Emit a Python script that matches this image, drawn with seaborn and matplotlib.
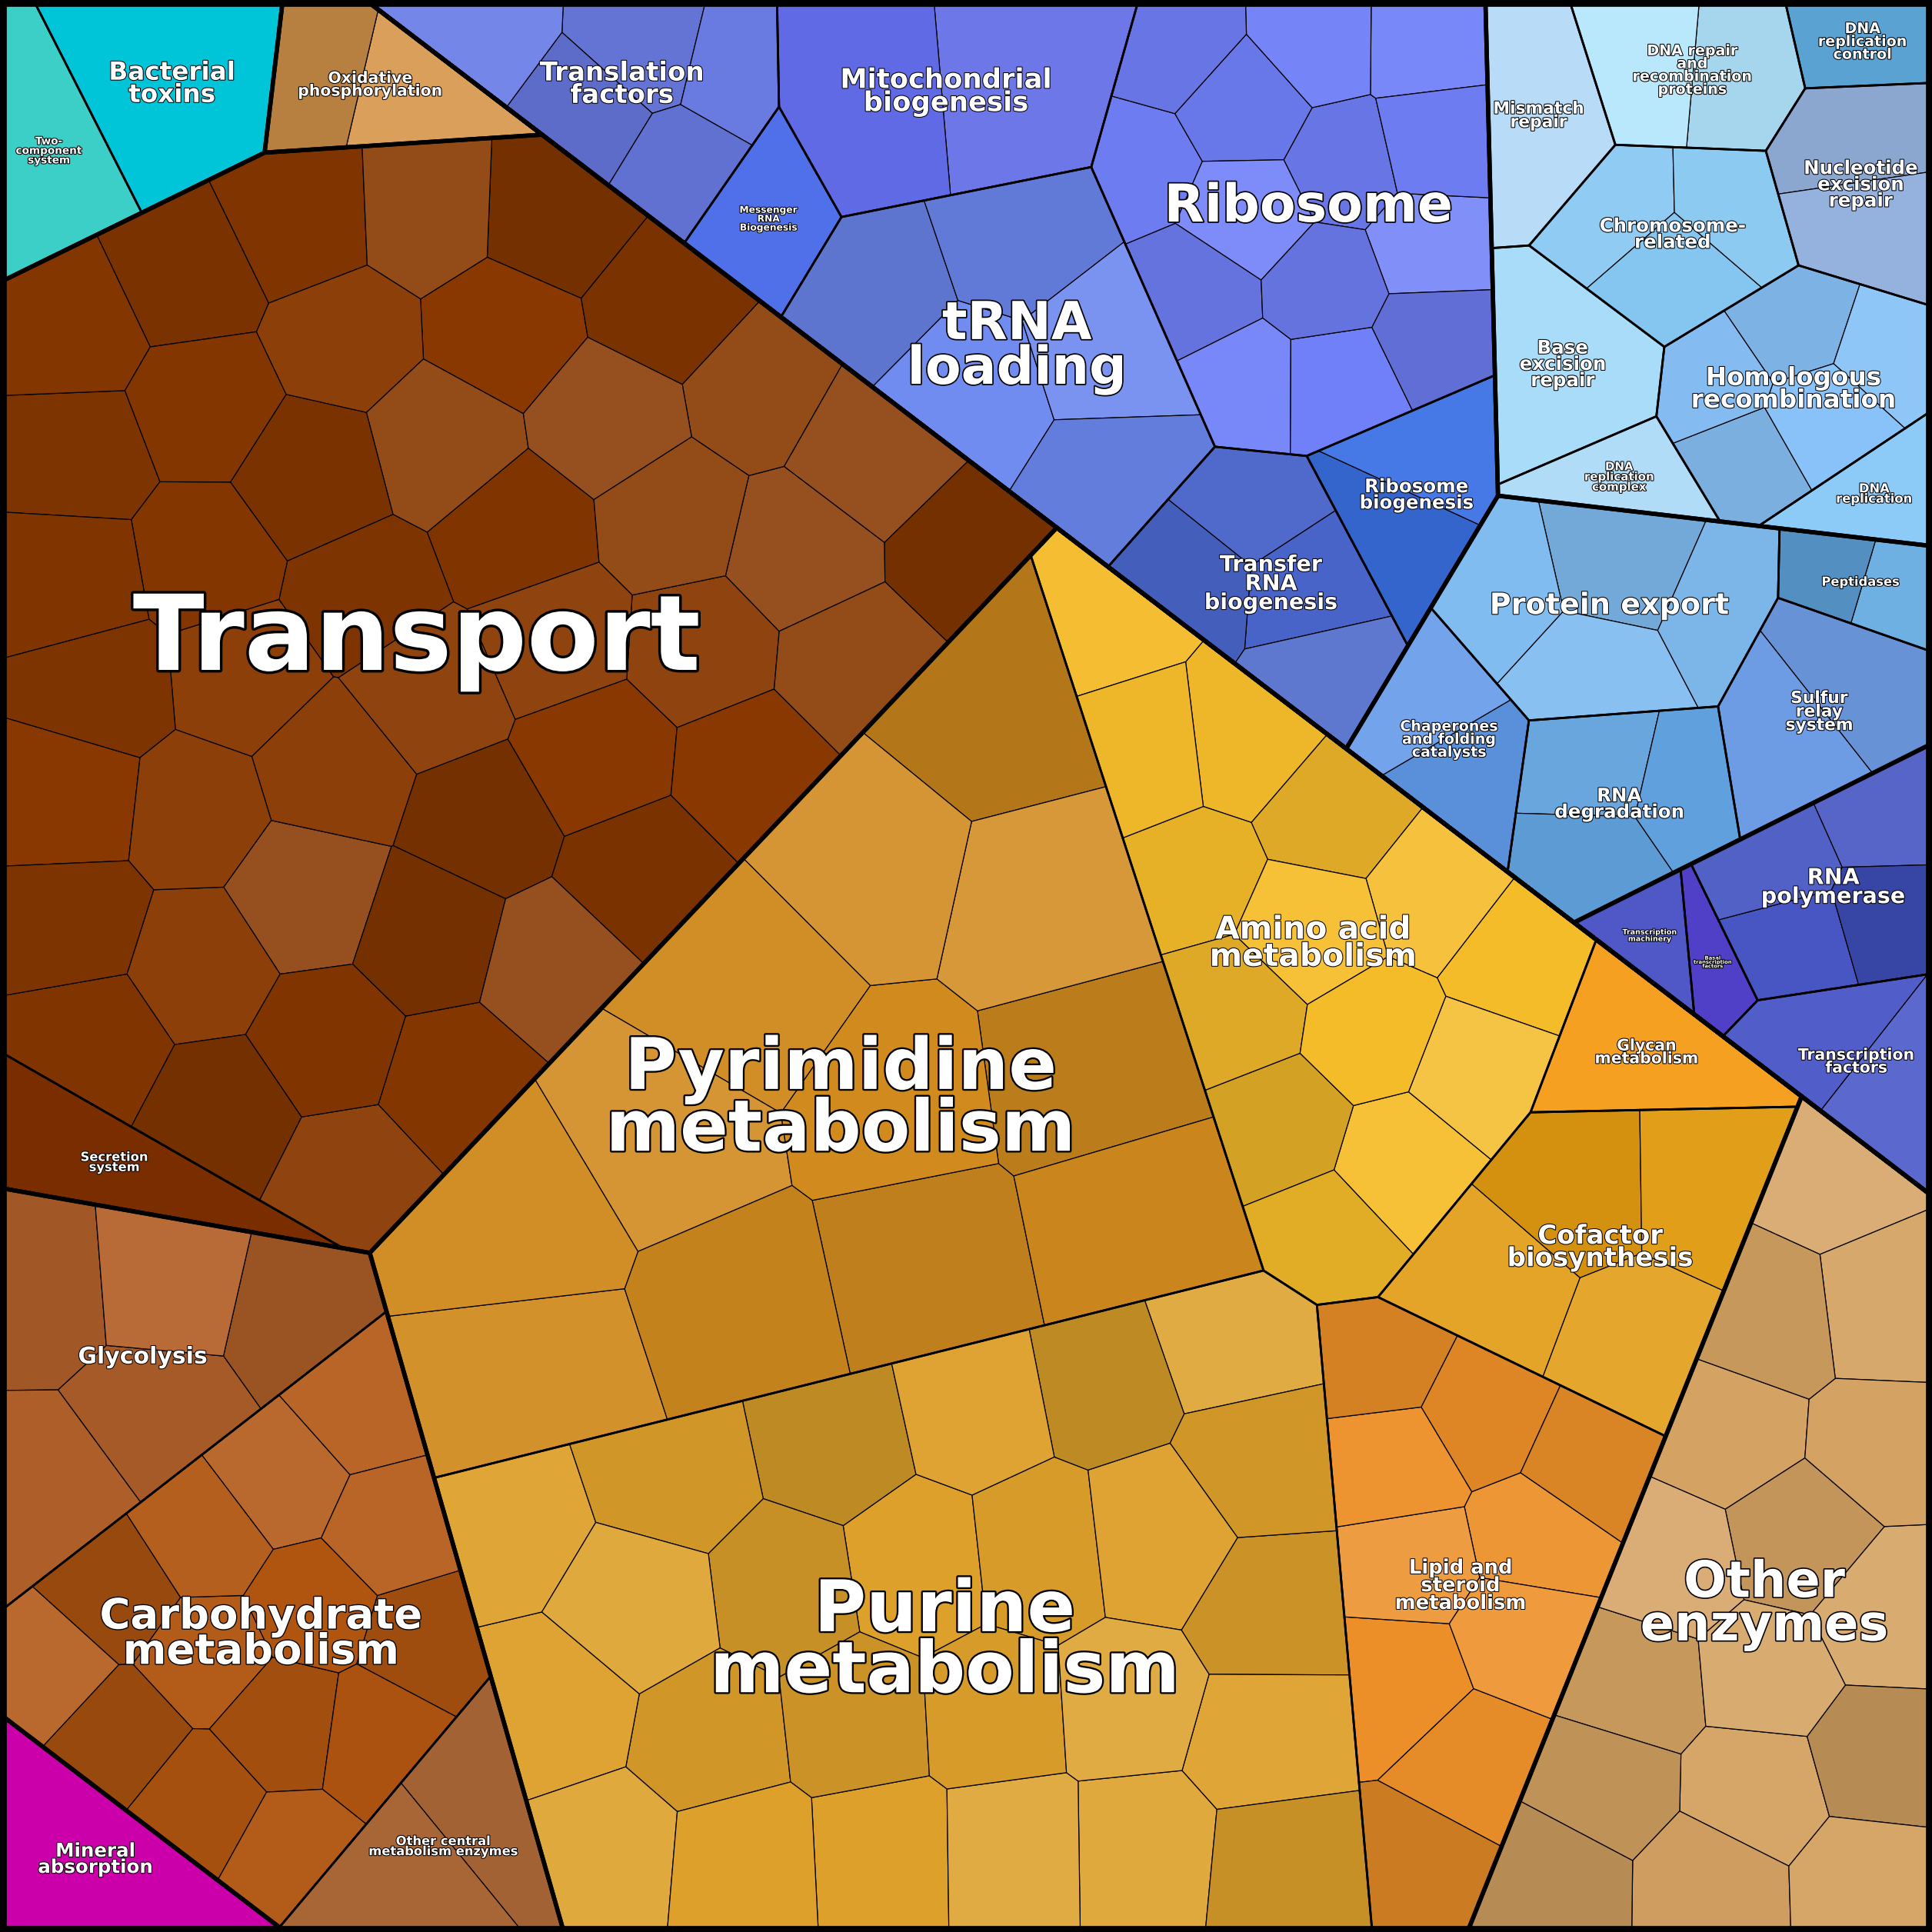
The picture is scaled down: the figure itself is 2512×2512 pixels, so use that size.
import numpy as np
import matplotlib
matplotlib.use('Agg')
import matplotlib.pyplot as plt
import seaborn as sns
from matplotlib.patches import Polygon, Rectangle
import matplotlib.patheffects as pe
import matplotlib.colors as mc

sns.set_theme(style='white')
plt.rcParams['font.family'] = ['DejaVu Sans']

W = 1568.0

# ---- super groups ----
super_names = ['Metabolism & other', 'Genetic information']
super_x = [600, 1207]
super_y = [1000, 205]
super_values = [1830, 613]

# ---- groups ----
group_names = ['Environmental', 'Oxidative', 'Transport', 'Carbohydrate', 'Mineral', 'Nucleotide/AA',
               'Translation', 'DNA', 'Protein', 'Transcription', 'Other']
group_super = [0, 0, 0, 0, 0, 0, 1, 1, 1, 1, 0]
group_x = [90, 300, 330, 200, 55, 900, 800, 1390, 1350, 1460, 1400]
group_y = [70, 95, 560, 1300, 1490, 1100, 230, 215, 560, 780, 1300]
group_values = [38, 17, 524, 194, 20, 879, 300, 150, 110, 53, 158]

# ---- subgroups ----
sub_labels = ['Bacterial\ntoxins', 'Two-\ncomponent\nsystem',
              'Oxidative\nphosphorylation',
              'Transport', 'Secretion\nsystem',
              'Glycolysis', 'Carbohydrate\nmetabolism', 'Other central\nmetabolism enzymes',
              'Mineral\nabsorption',
              'Pyrimidine\nmetabolism', 'Purine\nmetabolism', 'Amino acid\nmetabolism', 'Glycan\nmetabolism',
              'Cofactor\nbiosynthesis', 'Lipid and\nsteroid\nmetabolism',
              'Translation\nfactors', 'Mitochondrial\nbiogenesis', 'Messenger\nRNA\nBiogenesis', 'Ribosome',
              'tRNA\nloading', 'Transfer\nRNA\nbiogenesis', 'Ribosome\nbiogenesis',
              'Mismatch\nrepair', 'DNA repair\nand\nrecombination\nproteins', 'DNA\nreplication\ncontrol',
              'Nucleotide\nexcision\nrepair', 'Chromosome-\nrelated', 'Base\nexcision\nrepair',
              'Homologous\nrecombination', 'DNA\nreplication\ncomplex', 'DNA\nreplication',
              'Protein export', 'Peptidases', 'Chaperones\nand folding\ncatalysts', 'RNA\ndegradation',
              'Sulfur\nrelay\nsystem',
              'RNA\npolymerase', 'Transcription\nmachinery', 'Basal\ntranscription\nfactors',
              'Transcription\nfactors',
              'Other\nenzymes']
sub_group = [0, 0, 1, 2, 2, 3, 3, 3, 4, 5, 5, 5, 5, 5, 5, 6, 6, 6, 6, 6, 6, 6,
             7, 7, 7, 7, 7, 7, 7, 7, 7, 8, 8, 8, 8, 8, 9, 9, 9, 9, 10]
sub_x = [148, 40, 300, 330, 40, 75, 238, 440, 55, 720, 815, 1150, 1360, 1362, 1212,
         495, 760, 610, 1060, 800, 1028, 1165,
         1260, 1370, 1500, 1505, 1365, 1275, 1450, 1318, 1520,
         1300, 1525, 1168, 1310, 1490, 1488, 1343, 1396, 1512, 1430]
sub_y = [45, 100, 92, 500, 1000, 1150, 1360, 1530, 1490, 930, 1310, 790, 870, 965, 1275,
         70, 65, 150, 150, 265, 468, 395,
         95, 60, 30, 145, 185, 305, 325, 405, 430,
         490, 495, 605, 625, 595, 720, 770, 765, 877, 1345]
sub_values = [30, 20, 1, 95, 2, 30, 55, 12, 1, 31, 36, 15, 1.8, 6, 10,
              40, 45, 12, 110, 70, 35, 20,
              12, 15, 6, 15, 18, 14, 25, 6, 6,
              35, 8, 15, 22, 20, 50, 10, 8, 32, 1]
sub_colors = ['#00c5d9', '#3ccfc8', '#d6954a', '#883800', '#7a2e00', '#b3622a', '#b05510', '#a86535',
              '#cc00aa', '#d08a1e', '#dda02a', '#f5bc2a', '#f5a020', '#e09a10', '#ec8f28',
              '#6c7ee8', '#5a64e4', '#5070ea', '#7080f8', '#6c88f0', '#4864c8', '#3a70e4',
              '#b8dcf8', '#b0e4fc', '#5aa2d2', '#a2c2f2', '#80c4f0', '#a8dcf8', '#88c2f8', '#b0dcf8',
              '#8ccaf8', '#80bcf0', '#60a8e0', '#6098e8', '#60a0dc', '#78aaf8',
              '#4050c0', '#5058c8', '#5040c8', '#4a58c8', '#d4a262']
sub_leaves = [1, 1, 2, 45, 1, 5, 14, 2, 1, 12, 25, 14, 1, 4, 10,
              5, 2, 1, 14, 5, 4, 2, 1, 2, 1, 2, 3, 1, 5, 1, 1,
              4, 2, 2, 3, 2, 4, 1, 1, 2, 16]
sub_fs = [24, 10, 15, 100, 12, 22, 40, 12, 18, 68, 68, 30, 15, 25, 19,
          25, 26, 9, 50, 50, 21, 18, 16, 14, 14, 18, 18, 18, 24, 11, 12,
          28, 12, 14, 18, 16, 21, 7, 5, 15, 48]


# ---- geometry helpers ----
def clip(poly, a, b):
    out = []
    n = len(poly)
    for k in range(n):
        P = poly[k]; Q = poly[(k + 1) % n]
        fp = a @ P - b; fq = a @ Q - b
        if fp <= 0:
            out.append(P)
        if fp * fq < 0:
            t = fp / (fp - fq)
            out.append(P + t * (Q - P))
    return np.array(out) if len(out) >= 3 else np.zeros((0, 2))


def area_centroid(poly):
    if len(poly) < 3:
        return 0.0, None
    x, y = poly[:, 0], poly[:, 1]
    x1, y1 = np.roll(x, -1), np.roll(y, -1)
    c = x * y1 - x1 * y
    A = c.sum() / 2
    if abs(A) < 1e-9:
        return 0.0, poly.mean(0)
    return abs(A), np.array([((x + x1) * c).sum() / (6 * A), ((y + y1) * c).sum() / (6 * A)])


def perim(poly):
    if len(poly) < 3:
        return 1.0
    return np.sqrt(((poly - np.roll(poly, -1, 0)) ** 2).sum(1)).sum()


def power_cells(S, w, poly):
    cells = []
    for i in range(len(S)):
        c = poly.copy()
        for j in range(len(S)):
            if i == j or len(c) == 0:
                continue
            a = 2 * (S[j] - S[i])
            b = S[j] @ S[j] - S[i] @ S[i] - w[j] + w[i]
            c = clip(c, a, b)
        cells.append(c)
    return cells


def inside(poly, p):
    n = len(poly)
    s = None
    for k in range(n):
        P = poly[k]; Q = poly[(k + 1) % n]
        cr = (Q[0] - P[0]) * (p[1] - P[1]) - (Q[1] - P[1]) * (p[0] - P[0])
        if abs(cr) < 1e-12:
            continue
        if s is None:
            s = np.sign(cr)
        elif np.sign(cr) != s:
            return False
    return True


def fit(S, vals, poly, iters, move):
    S = np.array(S, float).copy()
    n = len(S)
    if n == 1:
        return [poly], S
    vals = np.array(vals, float)
    At, pc = area_centroid(poly)
    for i in range(n):
        for f in (0.85, 0.6, 0.3):
            if inside(poly, S[i]):
                break
            S[i] = pc + f * (S[i] - pc)
    T = At * vals / vals.sum()
    w = np.zeros(n)
    for it in range(iters):
        cells = power_cells(S, w, poly)
        ar = np.zeros(n); cen = S.copy(); pe_ = np.ones(n)
        for i, c in enumerate(cells):
            a, ce = area_centroid(c)
            ar[i] = a
            if ce is not None and a > 0:
                cen[i] = ce
            pe_[i] = perim(c) if a > 0 else 1.0
        S = S + move * (cen - S)
        D = np.sqrt(((S[:, None, :] - S[None, :, :]) ** 2).sum(-1)) + np.eye(n) * 1e9
        dnn = D.min(1)
        w = w + 0.5 * (T - ar) * 2 * dnn / np.maximum(pe_, 1.0)
        for _ in range(2):
            for i in range(n):
                for j in range(n):
                    if i != j and w[j] - w[i] > 0.9 * D[i, j] ** 2:
                        w[j] = w[i] + 0.9 * D[i, j] ** 2
        w = w - w.min()
    return power_cells(S, w, poly), S


def halton(i, b):
    f, r = 1.0, 0.0
    while i > 0:
        f /= b
        r += f * (i % b)
        i //= b
    return r


def leaf_sites(poly, n):
    lo = poly.min(0); hi = poly.max(0)
    pts = []
    k = 1
    while len(pts) < n and k < 20000:
        p = lo + (hi - lo) * np.array([halton(k, 2), halton(k, 3)])
        if inside(poly, p):
            pts.append(p)
        k += 1
    return np.array(pts)


shade_cycle = [1.0, 0.9, 1.08, 0.94, 1.05, 0.86, 1.1, 0.97, 0.92, 1.03]


def shade(col, f):
    r = np.array(mc.to_rgb(col))
    if f >= 1:
        r = r + (1 - r) * (f - 1) * 1.2
    else:
        r = r * f
    return np.clip(r, 0, 1)


# ---- compute layout ----
square = np.array([[0, 0], [W, 0], [W, W], [0, W]], float)
scells, _ = fit(np.column_stack([super_x, super_y]), super_values, square, 100, 0.0)

gcells = [None] * len(group_names)
for s in range(len(super_names)):
    idx = [g for g in range(len(group_names)) if group_super[g] == s]
    S = np.column_stack([[group_x[g] for g in idx], [group_y[g] for g in idx]])
    cells, _ = fit(S, [group_values[g] for g in idx], scells[s], 150, 0.0)
    for k, g in enumerate(idx):
        gcells[g] = cells[k]

fig = plt.figure(figsize=(25.12, 25.12), dpi=100)
ax = fig.add_axes([0, 0, 1, 1])
ax.set_xlim(0, W); ax.set_ylim(W, 0); ax.axis('off')

sub_cells = [None] * len(sub_labels)
for g in range(len(group_names)):
    idx = [i for i in range(len(sub_labels)) if sub_group[i] == g]
    S = np.column_stack([[sub_x[i] for i in idx], [sub_y[i] for i in idx]])
    cells, _ = fit(S, [sub_values[i] for i in idx], gcells[g], 120, 0.0)
    for k, i in enumerate(idx):
        sub_cells[i] = cells[k]

for i, c in enumerate(sub_cells):
    if len(c) < 3:
        continue
    n = sub_leaves[i]
    if n > 1:
        pts = leaf_sites(c, n)
        lcells, _ = fit(pts, np.ones(len(pts)), c, 25, 1.0)
    else:
        lcells = [c]
    for k, lc in enumerate(lcells):
        if len(lc) < 3:
            continue
        f = shade_cycle[(k * 3 + i) % len(shade_cycle)] if n > 1 else 1.0
        ax.add_patch(Polygon(lc, closed=True, facecolor=shade(sub_colors[i], f),
                             edgecolor='black', linewidth=0.9, zorder=1))

for c in sub_cells:
    if len(c) >= 3:
        ax.add_patch(Polygon(c, closed=True, facecolor='none', edgecolor='black',
                             linewidth=2.0, zorder=2, joinstyle='round'))
for c in gcells + list(scells):
    if len(c) >= 3:
        ax.add_patch(Polygon(c, closed=True, facecolor='none', edgecolor='black',
                             linewidth=4.0, zorder=3, joinstyle='round'))
ax.add_patch(Rectangle((0, 0), W, W, facecolor='none', edgecolor='black', linewidth=12, zorder=4))

for i, c in enumerate(sub_cells):
    if len(c) < 3:
        continue
    a, ce = area_centroid(c)
    fs = sub_fs[i] * 1.153 * 0.85
    ax.text(ce[0], ce[1], sub_labels[i], ha='center', va='center', fontsize=fs,
            fontweight='bold', color='white', linespacing=0.85, zorder=5,
            path_effects=[pe.withStroke(linewidth=max(1.5, fs * 0.05), foreground='black')])

fig.savefig('out.png', dpi=100)
